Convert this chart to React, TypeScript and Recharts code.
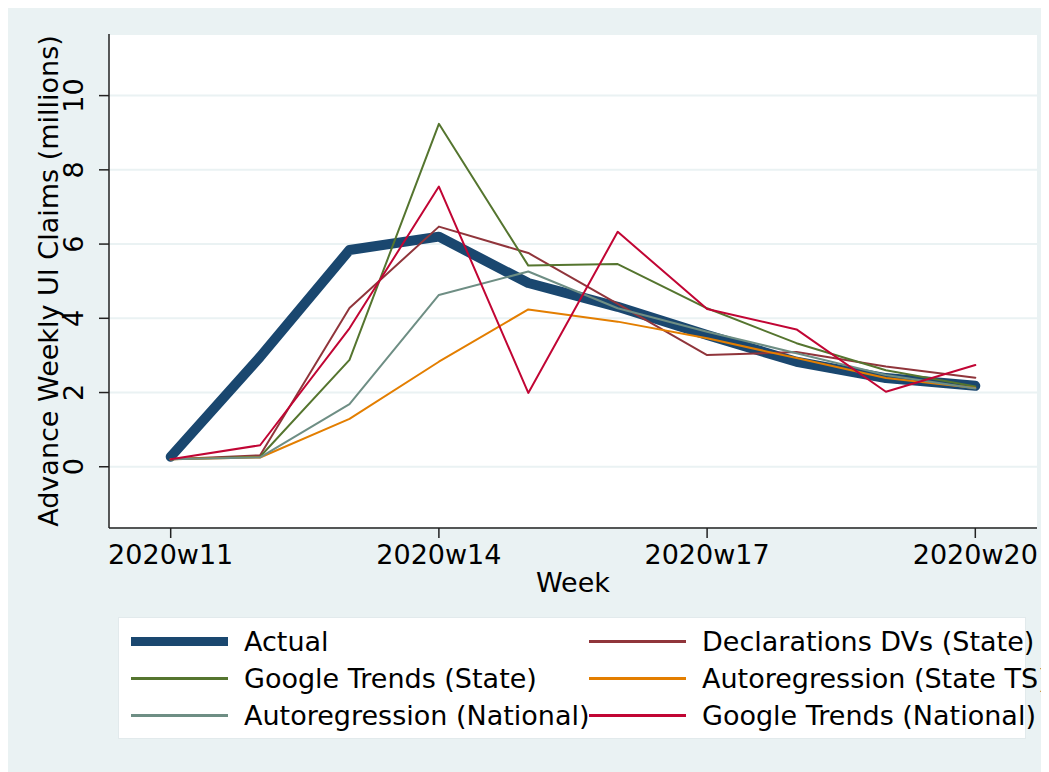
import { LineChart, Line, XAxis, YAxis, CartesianGrid } from 'recharts'

const weeks = [11, 12, 13, 14, 15, 16, 17, 18, 19, 20]
const actual = [0.27, 2.96, 5.84, 6.2, 4.95, 4.31, 3.55, 2.83, 2.39, 2.18]
const declarationsState = [0.2, 0.31, 4.28, 6.47, 5.76, 4.39, 3.01, 3.09, 2.7, 2.4]
const googleState = [0.2, 0.27, 2.88, 9.24, 5.42, 5.46, 4.27, 3.33, 2.6, 2.16]
const arStateTs = [0.2, 0.25, 1.29, 2.83, 4.24, 3.91, 3.46, 2.93, 2.39, 2.12]
const arNational = [0.2, 0.25, 1.69, 4.63, 5.26, 4.27, 3.64, 3.06, 2.47, 2.11]
const googleNational = [0.2, 0.58, 3.73, 7.55, 1.99, 6.33, 4.25, 3.7, 2.02, 2.74]

const xTicks = [11, 14, 17, 20]
const xTickLabels = ['2020w11', '2020w14', '2020w17', '2020w20']
const yTicks = [0, 2, 4, 6, 8, 10]

const series = [
  { key: 'actual', name: 'Actual', color: '#1a476f', width: 10 },
  { key: 'decl', name: 'Declarations DVs (State)', color: '#90353b', width: 2 },
  { key: 'gtState', name: 'Google Trends (State)', color: '#55752f', width: 2 },
  { key: 'arTs', name: 'Autoregression (State TS)', color: '#e37e00', width: 2 },
  { key: 'arNat', name: 'Autoregression (National)', color: '#6e8e84', width: 2 },
  { key: 'gtNat', name: 'Google Trends (National)', color: '#c10534', width: 2 },
]

const data = weeks.map((w, i) => ({
  week: w,
  actual: actual[i],
  decl: declarationsState[i],
  gtState: googleState[i],
  arTs: arStateTs[i],
  arNat: arNational[i],
  gtNat: googleNational[i],
}))

const FONT = '"DejaVu Sans", sans-serif'
const FS = 27
const BG = '#eaf2f3'

const YTick = ({ x, y, payload }: any) => (
  <text x={x - 14} y={y} transform={`rotate(-90, ${x - 14}, ${y})`} textAnchor="middle"
    fontSize={FS} fontFamily={FONT} fill="#000">{payload.value}</text>
)

// legend rows: Stata cols(2), row-wise order
const legendRows = [[0, 1], [2, 3], [4, 5]]

export default function App() {
  return (
    <div style={{ position: 'relative', width: 1041, height: 764, background: BG, fontFamily: FONT }}>
      <LineChart width={1041} height={764} data={data} margin={{ top: 26, right: 12, left: 0, bottom: 164 }}>
        <CartesianGrid vertical={false} stroke={BG} strokeWidth={2} fill="#fff" fillOpacity={1} />
        <XAxis dataKey="week" type="number" domain={[10.31, 20.69]} ticks={xTicks} allowDataOverflow
          tickFormatter={(v: number) => xTickLabels[xTicks.indexOf(v)]}
          height={80} tickSize={10} tickMargin={7}
          stroke="#222" strokeWidth={1.5}
          tick={{ fontSize: FS, fontFamily: FONT, fill: '#000' }}
          label={{ value: 'Week', position: 'insideBottom', offset: 16, fontSize: FS, fontFamily: FONT, fill: '#000' }} />
        <YAxis type="number" domain={[-1.65, 11.66]} ticks={yTicks} allowDataOverflow
          width={101} tickSize={10} stroke="#222" strokeWidth={1.5} tick={<YTick />}
          label={{ value: 'Advance Weekly UI Claims (millions)', angle: -90, position: 'insideLeft', offset: 40,
            fontSize: FS, fontFamily: FONT, fill: '#000', style: { textAnchor: 'middle' } }} />
        {series.map(s => (
          <Line key={s.key} type="linear" dataKey={s.key} name={s.name} stroke={s.color} strokeWidth={s.width}
            strokeLinecap="round" strokeLinejoin="round" dot={false} activeDot={false} isAnimationActive={false} />
        ))}
      </LineChart>
      <div style={{ position: 'absolute', left: 110, top: 609, width: 908, height: 122, background: '#fff',
        border: '1px solid #e2eaec', boxSizing: 'border-box' }}>
        {legendRows.map((row, r) => row.map((idx, c) => {
          const s = series[idx]
          const top = 23 + r * 37
          const left = c === 0 ? 12 : 470
          return (
            <div key={s.key} style={{ position: 'absolute', left, top: top - 18, height: 36, display: 'flex', alignItems: 'center', whiteSpace: 'nowrap' }}>
              <div style={{ width: 97, height: s.width === 10 ? 9 : 3, background: s.color }} />
              <span style={{ marginLeft: 16, fontSize: FS, color: '#000' }}>{s.name}</span>
            </div>
          )
        }))}
      </div>
    </div>
  )
}
